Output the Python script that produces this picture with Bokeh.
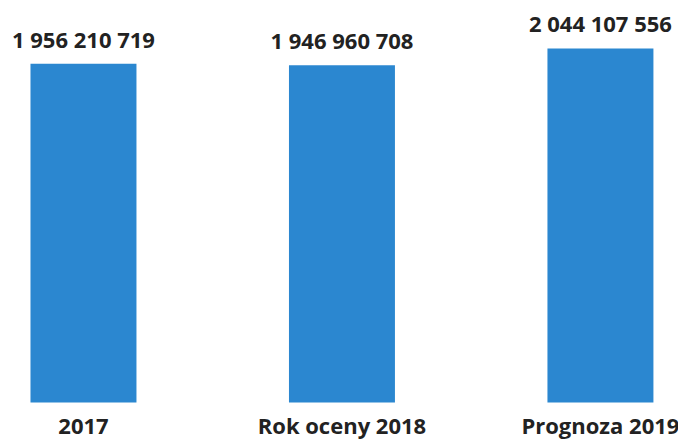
from bokeh.plotting import figure
from bokeh.models import ColumnDataSource, LabelSet, Range1d
from bokeh.core.properties import value
from bokeh.embed import file_html
from bokeh.resources import INLINE

categories = ["2017", "Rok oceny 2018", "Prognoza 2019"]
values = [1956210719, 1946960708, 2044107556]
value_labels = ["1 956 210 719", "1 946 960 708", "2 044 107 556"]
positions = list(range(len(categories)))

source = ColumnDataSource(dict(x=positions, cat=categories, val=values,
                               lab=value_labels, zero=[0] * len(values)))

p = figure(
    width=678, height=442,
    x_range=Range1d(-0.321, 2.302),
    y_range=Range1d(-231e6, 2321e6),
    output_backend="svg", toolbar_location=None,
    min_border_left=0, min_border_right=0, min_border_top=0, min_border_bottom=0,
)
p.vbar(x="x", top="val", width=0.41, source=source,
       fill_color="#2B87D0", line_color=None)

value_set = LabelSet(x="x", y="val", text="lab", source=source,
                     text_align="center", text_baseline="alphabetic", y_offset=16,
                     text_font=value("Open Sans"), text_font_style="bold",
                     text_font_size="22px", text_color="#222222")
p.add_layout(value_set)

cat_set = LabelSet(x="x", y="zero", text="cat", source=source,
                   text_align="center", text_baseline="alphabetic", y_offset=-32,
                   text_font=value("Open Sans"), text_font_style="bold",
                   text_font_size="22px", text_color="#222222")
p.add_layout(cat_set)

p.xaxis.visible = False
p.yaxis.visible = False
p.grid.visible = False
p.outline_line_color = None
p.background_fill_color = "white"
p.border_fill_color = "white"

open("out.html", "w").write(file_html(p, INLINE))
